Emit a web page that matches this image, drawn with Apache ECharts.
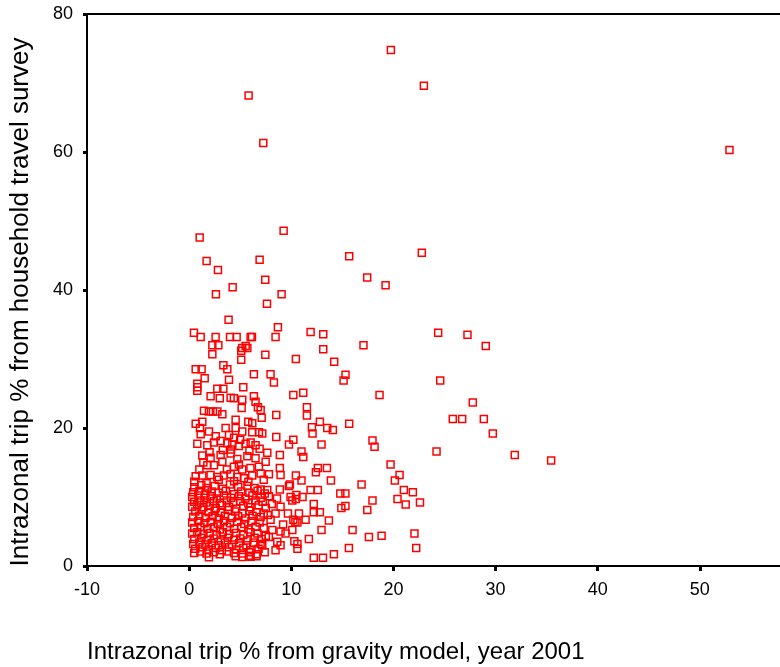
<!DOCTYPE html>
<html>
<head>
<meta charset="utf-8">
<script src="https://cdn.jsdelivr.net/npm/echarts@6/dist/echarts.min.js"></script>
<style>
html,body{margin:0;padding:0;background:#fff;}
#chart{width:780px;height:667px;}
</style>
</head>
<body>
<div id="chart"></div>
<script>
// [gravity model %, household survey %]
const upperOutliers = [[19.75,74.8],[22.98,69.6],[5.82,68.2],[7.26,61.3],[52.9,60.3],[1.03,47.6],[9.25,48.6],[1.71,44.2],[2.82,42.9],[6.9,44.4],[4.26,40.4],[2.62,39.4],[7.45,41.5],[9.05,39.4],[7.62,38.0],[15.67,44.9],[22.78,45.4],[17.43,41.8],[19.23,40.7]];
const rightSpread = [[24.38,33.8],[27.25,33.5],[29.04,31.9],[24.58,26.9],[27.77,23.7],[25.81,21.3],[26.73,21.3],[28.85,21.3],[29.73,19.2],[24.22,16.6],[31.88,16.1],[35.44,15.3]];
const midSpread = [[11.89,33.9],[13.13,33.6],[17.07,32.0],[13.13,31.4],[10.45,30.0],[14.2,29.6],[15.31,27.7],[15.12,26.9],[18.64,24.8],[11.17,25.1],[10.2,24.8],[11.53,23.0],[11.53,21.8],[12.8,20.9],[15.67,20.6],[12.02,20.1],[13.52,20.0],[14.07,19.7],[12.08,19.2]];
const midLow = [[10.2,18.3],[12.96,17.6],[17.95,18.2],[18.15,17.3],[11.0,16.6],[11.17,15.8],[19.72,14.7],[12.6,14.2],[13.49,14.2],[12.41,13.6],[20.6,13.2],[20.14,12.4],[10.45,13.1],[11.0,12.4],[13.88,12.4],[16.88,11.8],[21.02,11.0],[21.9,10.7],[11.89,11.0],[12.6,11.0],[14.8,10.5],[15.3,10.5],[11.1,10.0],[10.45,9.7],[10.1,9.5],[20.4,9.7],[21.2,8.9],[22.6,9.2],[17.95,9.5],[17.44,8.1],[15.3,8.7],[14.9,8.4],[12.2,9.0],[12.8,7.8],[12.2,7.8],[13.68,6.6],[11.4,6.7],[10.2,6.7],[10.6,6.3],[16.0,5.2],[12.96,5.2],[10.1,5.2],[17.6,4.2],[18.84,4.4],[22.06,4.7],[11.72,3.9],[10.3,3.6],[10.6,3.2],[10.6,2.5],[22.23,2.6],[15.64,2.6],[14.17,1.7],[12.2,1.2],[13.1,1.2]];
const upperLeft = [[3.86,35.7],[8.69,34.6],[0.47,33.8],[1.13,33.2],[2.59,33.2],[4.0,33.2],[4.65,33.2],[6.02,33.2],[6.15,33.2],[8.46,33.2],[2.27,32.0],[2.86,32.0],[5.2,31.6],[5.53,31.9],[5.7,31.6],[5.1,31.2],[2.27,30.7],[7.46,30.6],[5.1,29.9],[3.35,29.1],[3.74,28.5],[0.64,28.5],[1.22,28.5],[1.52,27.2],[6.34,27.8],[7.97,27.8],[8.3,26.6],[3.9,27.0],[0.8,26.4],[0.8,25.9],[0.8,25.4],[2.76,25.7],[3.35,25.7],[5.3,25.9]];
const leftMiddle = [[2.1,24.6],[3.0,24.3],[4.06,24.4],[4.38,24.3],[5.2,24.1],[6.34,24.6],[6.5,23.8],[5.14,22.9],[6.73,23.0],[7.0,22.6],[1.45,22.5],[1.94,22.4],[2.33,22.4],[2.76,22.4],[3.25,22.0],[8.53,21.9],[7.1,21.5],[4.55,21.2],[5.79,20.9],[6.18,20.7],[0.64,20.6],[1.29,20.9],[1.06,20.0],[3.57,20.0],[4.55,20.0],[1.94,19.5],[1.13,19.1],[5.2,19.5],[6.18,19.4],[6.83,19.4],[7.16,19.2],[8.53,18.7],[9.77,17.6],
[0.8,17.7],[1.78,17.5],[2.43,17.9],[3.08,18.1],[3.74,17.8],[4.23,17.6],[4.87,17.4],[5.53,17.7],[6.02,17.9],[6.5,17.5],[8.88,16.1],
[1.29,16.0],[2.1,15.7],[3.08,16.1],[4.06,16.3],[4.72,15.5],[5.7,15.9],[6.5,15.6],[7.65,16.4],
[1.39,15.0],[1.78,14.6],[2.43,14.6],[3.25,15.1],[4.38,14.4],[4.87,14.7],[6.83,14.4],[7.49,15.1],[8.88,14.2],
[0.64,13.0],[1.29,13.1],[2.1,13.2],[2.76,12.9],[3.4,13.1],[4.06,13.3],[4.72,12.9],[5.36,12.7],[6.18,13.1],[7.0,13.4],[7.81,13.3],[8.95,13.2],[9.86,11.8],
[3.9,19.0],[4.4,18.6],[5.0,18.3],[2.6,18.8],[3.3,16.8],[4.1,16.9],[5.9,16.7],[6.9,17.0],[2.0,16.5],[5.2,14.0],[3.7,14.0],[6.0,14.2],[1.0,14.0],[2.9,12.5],[4.4,12.3],[5.8,12.2],[7.3,12.5],[0.5,12.2],[1.7,12.0]];
const denseEdge = [[9.77,11.6],[8.88,11.1],[7.65,11.0],[7.0,11.1],[5.7,11.6],[10.5,10.3],[9.93,10.0],[9.67,7.6],[10.4,6.4],[10.75,7.6],[8.95,8.6],[8.46,7.6],[7.97,6.7],[8.14,5.2],[8.95,5.0],[9.44,4.7],[8.63,3.5],[8.95,3.0],[8.46,2.3],[7.16,3.0],[6.02,1.35],[1.94,1.26],[4.55,1.4],[5.2,1.3],[5.85,1.5],[6.6,1.4]];
const denseCore = [
[0.5,11.4],[1.2,11.7],[1.8,11.3],[2.5,11.6],[3.3,11.2],[4.0,11.8],[4.8,11.5],[6.4,11.3],
[0.4,10.7],[1.0,10.9],[1.6,10.5],[2.2,10.8],[2.9,10.6],[3.6,10.9],[4.4,10.4],[5.1,10.8],[5.9,10.6],[6.7,10.9],[7.4,10.5],
[0.3,10.0],[0.9,10.2],[1.5,9.9],[2.1,10.1],[2.7,9.8],[3.4,10.2],[4.1,9.9],[4.9,10.1],[5.5,9.8],[6.2,10.2],[7.0,9.9],[7.8,10.1],[8.6,9.8],
[0.5,9.3],[1.1,9.5],[1.7,9.2],[2.4,9.4],[3.0,9.1],[3.7,9.5],[4.3,9.2],[5.0,9.4],[5.8,9.1],[6.5,9.5],[7.2,9.3],[8.1,9.0],
[0.3,8.6],[0.8,8.8],[1.4,8.5],[2.0,8.7],[2.6,8.4],[3.2,8.8],[3.9,8.6],[4.6,8.3],[5.3,8.7],[6.0,8.5],[6.8,8.8],[7.5,8.4],
[0.6,7.9],[1.2,8.1],[1.9,7.8],[2.5,8.0],[3.1,7.7],[3.8,8.1],[4.5,7.9],[5.2,7.6],[5.9,8.0],[6.6,7.8],[7.3,7.6],
[0.4,7.1],[1.0,7.3],[1.6,7.0],[2.3,7.2],[2.9,6.9],[3.5,7.3],[4.2,7.0],[4.8,7.2],[5.5,6.9],[6.2,7.3],[7.0,7.1],[7.7,7.4],
[0.3,6.3],[0.9,6.5],[1.5,6.2],[2.1,6.4],[2.8,6.1],[3.4,6.5],[4.0,6.2],[4.7,6.4],[5.4,6.1],[6.1,6.5],[6.9,6.3],[9.2,6.0],
[0.5,5.5],[1.1,5.7],[1.8,5.4],[2.4,5.6],[3.0,5.3],[3.7,5.7],[4.4,5.4],[5.1,5.6],[5.8,5.3],[6.5,5.7],[7.3,5.5],
[0.3,4.7],[0.8,4.9],[1.4,4.6],[2.0,4.8],[2.7,4.5],[3.3,4.9],[3.9,4.6],[4.6,4.8],[5.3,4.5],[6.0,4.9],[6.7,4.7],[7.5,4.4],
[0.5,3.9],[1.2,4.1],[1.8,3.8],[2.4,4.0],[3.1,3.7],[3.8,4.1],[4.4,3.8],[5.0,4.0],[5.7,3.7],[6.4,4.1],[7.1,3.9],[7.8,4.2],
[0.4,3.2],[1.0,3.4],[1.6,3.1],[2.2,3.3],[2.9,3.0],[3.5,3.4],[4.2,3.1],[4.9,3.3],[5.6,3.0],[6.3,3.4],[7.0,3.2],
[0.6,2.5],[1.3,2.7],[1.9,2.4],[2.6,2.6],[3.2,2.3],[3.9,2.7],[4.6,2.4],[5.3,2.6],[6.0,2.3],[6.8,2.5],
[0.5,1.9],[1.1,2.1],[1.7,1.8],[2.4,2.0],[3.0,1.7],[3.7,2.1],[4.4,1.9],[5.2,1.8],[5.9,2.0],[6.6,1.7],[7.4,2.0]];

const xTicks = {min: -10, max: 60, interval: 10};
const yTicks = {min: 0, max: 80, interval: 20};
const xTitle = 'Intrazonal trip % from gravity model, year 2001';
const yTitle = 'Intrazonal trip % from household travel survey';

const allPoints = [].concat(upperOutliers, rightSpread, midSpread, midLow, upperLeft, leftMiddle, denseEdge, denseCore);

const FONT = 'Liberation Sans, Arial, sans-serif';
const chart = echarts.init(document.getElementById('chart'));
chart.setOption({
  animation: false,
  backgroundColor: '#fff',
  title: {
    text: xTitle, left: 87, top: 640, padding: 0,
    textStyle: {fontFamily: FONT, fontSize: 24, fontWeight: 'normal', color: '#000'}
  },
  grid: {left: 87, width: 715, top: 14, bottom: 101, show: true, borderColor: '#000', borderWidth: 2,
         containLabel: false, outerBoundsMode: 'none'},
  xAxis: {
    type: 'value', min: xTicks.min, max: xTicks.max, interval: xTicks.interval,
    axisLine: {onZero: false, lineStyle: {color: '#000', width: 2}},
    axisTick: {length: 5, lineStyle: {color: '#000', width: 3}},
    splitLine: {show: false},
    axisLabel: {color: '#000', fontFamily: FONT, fontSize: 18, margin: 15}
  },
  yAxis: {
    type: 'value', min: yTicks.min, max: yTicks.max, interval: yTicks.interval,
    name: yTitle, nameLocation: 'middle', nameGap: 53,
    nameTextStyle: {color: '#000', fontFamily: FONT, fontSize: 26, padding: [0, 24, 0, 0]},
    axisLine: {onZero: false, lineStyle: {color: '#000', width: 2}},
    axisTick: {length: 4, lineStyle: {color: '#000', width: 3}},
    splitLine: {show: false},
    axisLabel: {color: '#000', fontFamily: FONT, fontSize: 18, margin: 14}
  },
  series: [{
    type: 'scatter',
    data: allPoints,
    symbol: 'rect',
    symbolSize: 7,
    itemStyle: {color: 'rgba(0,0,0,0)', borderColor: '#ff0000', borderWidth: 1.5, opacity: 1},
    emphasis: {disabled: true}
  }]
});
</script>
</body>
</html>
